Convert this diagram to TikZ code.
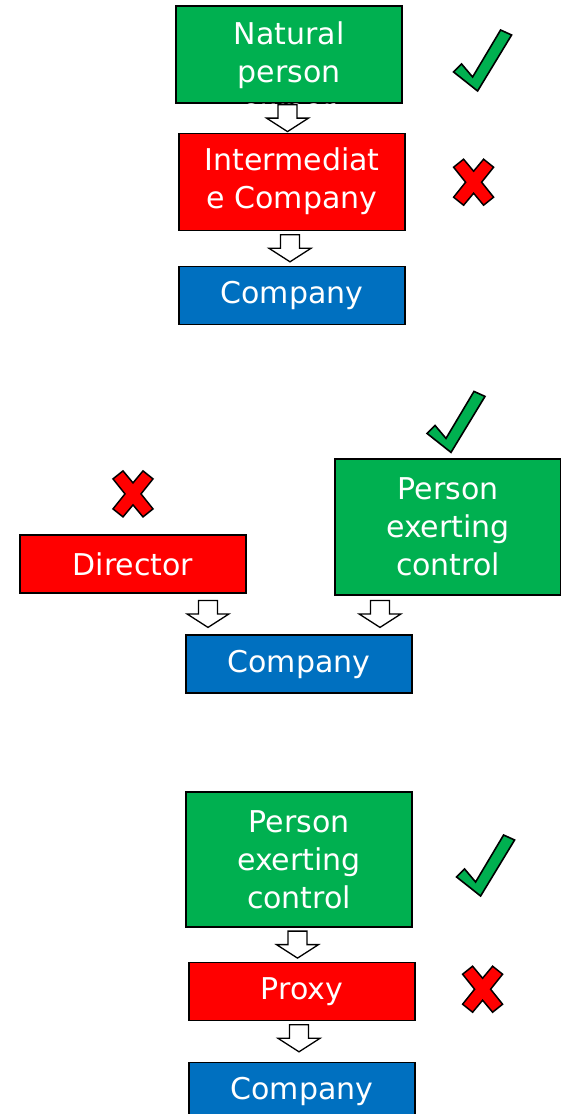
\documentclass[tikz,border=0pt]{standalone}
\usepackage{fontspec}
\setmainfont{DejaVu Sans}
\usetikzlibrary{positioning,calc}

\definecolor{okgreen}{HTML}{00B050}
\definecolor{nored}{HTML}{FF0000}
\definecolor{coblue}{HTML}{0070C0}

\tikzset{
  checkmark/.pic={
    \draw[fill=okgreen,line width=1.6pt,line join=miter]
      (-29,-12) -- (-21,-4) -- (-10,-17) -- (18,30) -- (29,25) -- (-5,-31) -- cycle;},
  crossmark/.pic={
    \draw[fill=nored,line width=1.5pt,line join=miter]
      (-20,15) -- (-10,23) -- (0,11) -- (10,23) -- (20,15) -- (8,0) -- (20,-15)
      -- (10,-23) -- (0,-11) -- (-10,-23) -- (-20,-15) -- (-8,0) -- cycle;},
  blockdown/.pic={
    \draw[fill=white,line width=1.3pt,line join=miter]
      (-9.5,13.5) -- (9.5,13.5) -- (9.5,0) -- (21,0) -- (0,-13.5) -- (-21,0) -- (-9.5,0) -- cycle;}
}

\begin{document}
\begin{tikzpicture}[x=1pt,y=1pt,
  box/.style={draw=black,line width=1.2pt,minimum width=226pt,inner sep=0pt,
    align=center,text=white,font=\fontsize{30}{38}\selectfont},
  yes box/.style={box,fill=okgreen},
  no box/.style={box,fill=nored},
  co box/.style={box,fill=coblue,minimum height=58pt}]
  \useasboundingbox (0,0) rectangle (561,-1114);

  \node[yes box,minimum height=97pt] (nat) at (289,-54.5)
    {\raisebox{10pt}[0pt][0pt]{\parbox[t]{220pt}{\centering Natural\\person\\owner}}};
  \node[no box,minimum height=97pt,below=29pt of nat,xshift=3pt] (inter) {Intermediat\\e Company};
  \node[co box,below=35pt of inter] (co1) {Company};
  \pic at ($(nat.south)!0.5!(inter.north)+(-3,0)$) {blockdown};
  \pic at ($(inter.south)!0.5!(co1.north)+(-2,0)$) {blockdown};
  \pic at ($(nat.east)+(80,-5.5)$) {checkmark};
  \pic at ($(inter.east)+(68,-0.5)$) {crossmark};

  \node[no box,minimum height=58pt] (dir) at (133,-564) {Director};
  \node[yes box,minimum height=136pt] (pec) at (448,-527) {Person\\exerting\\control};
  \node[co box] (co2) at (299,-664) {Company};
  \pic at ($(co2.north)+(-91,20.5)$) {blockdown};
  \pic at ($(co2.north)+(81,20.5)$) {blockdown};
  \pic at ($(pec.north)+(8,37)$) {checkmark};
  \pic at ($(dir.north)+(0,40.5)$) {crossmark};

  \node[yes box,minimum height=135pt] (pec3) at (299,-859.5) {Person\\exerting\\control};
  \node[no box,minimum height=58pt,below=34pt of pec3,xshift=3pt] (proxy) {Proxy};
  \node[co box,below=41pt of proxy] (co3) {Company};
  \pic at ($(pec3.south)!0.5!(proxy.north)+(-3,0)$) {blockdown};
  \pic at ($(proxy.south)!0.5!(co3.north)+(-3,3)$) {blockdown};
  \pic at ($(pec3.east)+(73,-5.5)$) {checkmark};
  \pic at ($(proxy.east)+(67,2)$) {crossmark};
\end{tikzpicture}
\end{document}
